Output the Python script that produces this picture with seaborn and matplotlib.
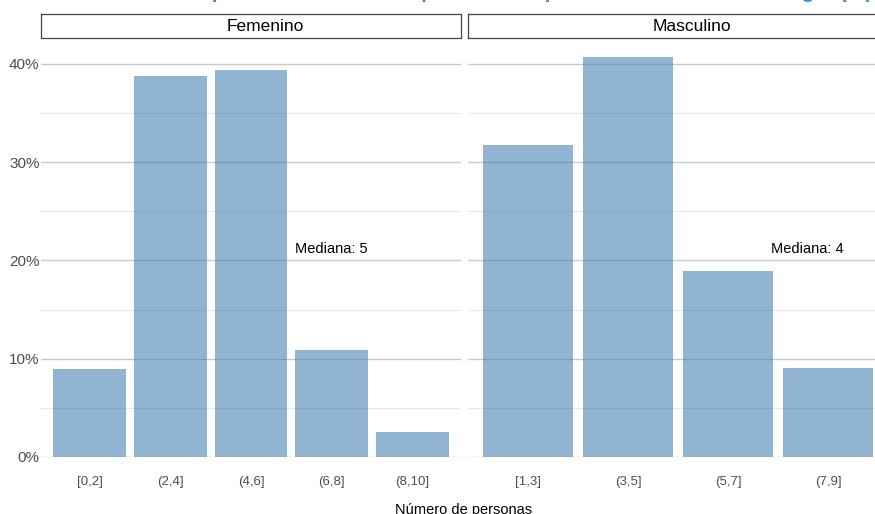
import matplotlib
matplotlib.use('Agg')
import pandas as pd
import seaborn as sns
import matplotlib.pyplot as plt
from matplotlib.ticker import FuncFormatter, MultipleLocator

sns.set_style('white')
plt.rcParams['font.family'] = ['Liberation Sans', 'DejaVu Sans']

# data (percent of households)
panel_names = ['Femenino', 'Masculino']
fem_bins = ['[0,2]', '(2,4]', '(4,6]', '(6,8]', '(8,10]']
fem_pct = [9.0, 38.8, 39.4, 10.9, 2.5]
masc_bins = ['[1,3]', '(3,5]', '(5,7]', '(7,9]']
masc_pct = [31.8, 40.7, 18.9, 9.1]
median_labels = ['Mediana: 5', 'Mediana: 4']

# title is cropped at the top edge in the reference, only descenders show
title = ('Distribución del número de personas residentes por sexo de '
         'personas adultas en el hogar (%)')

W, H = 875, 514
fig = plt.figure(figsize=(W / 100, H / 100), dpi=100)


def px_box(x0, x1, ytop, ybot):
    return [x0 / W, (H - ybot) / H, (x1 - x0) / W, (ybot - ytop) / H]


panels = [
    {'name': panel_names[0], 'bins': fem_bins, 'pct': fem_pct,
     'x': (41, 461), 'median': median_labels[0], 'mx': 3.0},
    {'name': panel_names[1], 'bins': masc_bins, 'pct': masc_pct,
     'x': (468, 888), 'median': median_labels[1], 'mx': 2.79},
]

pct_fmt = FuncFormatter(lambda v, p: f'{v:.0f}%')

for ix, pnl in enumerate(panels):
    x0, x1 = pnl['x']
    ax = fig.add_axes(px_box(x0, x1, 40, 457))
    df = pd.DataFrame({'bin': pnl['bins'], 'pct': pnl['pct']})
    sns.barplot(data=df, x='bin', y='pct', order=pnl['bins'],
                color='#4682B4', alpha=0.6, saturation=1, width=0.9,
                errorbar=None, ax=ax, zorder=3, linewidth=0, edgecolor='none')
    ax.set_xlim(-0.6, len(pnl['bins']) - 0.4)
    ax.set_ylim(0, 42.44)
    ax.yaxis.set_major_locator(MultipleLocator(10))
    ax.yaxis.set_minor_locator(MultipleLocator(5))
    ax.yaxis.set_major_formatter(pct_fmt)
    ax.set_axisbelow(True)
    ax.grid(which='major', axis='y', color='#c9c9c9', lw=1.0)
    ax.grid(which='minor', axis='y', color='#e8e8e8', lw=0.8)
    ax.grid(which='major', axis='x', visible=False)
    for s in ax.spines.values():
        s.set_visible(False)
    ax.tick_params(axis='x', length=0, pad=14, labelsize=9.5, labelcolor='#4d4d4d')
    ax.tick_params(axis='y', which='both', length=0, pad=1, labelsize=11,
                   labelcolor='#4d4d4d', labelleft=(ix == 0))
    ax.set_xlabel('')
    ax.set_ylabel('')
    ax.text(pnl['mx'], 21.17, pnl['median'], ha='center', va='center',
            fontsize=10.5, color='black', zorder=4)

    # facet strip (label sits a little right of the box centre, as in the reference)
    sax = fig.add_axes(px_box(x0, x1, 14, 38))
    sax.set_xticks([])
    sax.set_yticks([])
    sax.set_facecolor('white')
    for s in sax.spines.values():
        s.set_color('#444444')
        s.set_linewidth(0.9)
    sax.text(0.5 + 14 / (x1 - x0), 0.48, pnl['name'], ha='center', va='center',
             fontsize=12.5, color='black', transform=sax.transAxes)

fig.text(464 / W, 0.3 / H, 'Número de personas', ha='center', va='baseline',
         fontsize=10.5, color='black')
fig.text(872 / W, (H + 2) / H, title, ha='right', va='baseline',
         fontsize=15, weight='bold', color='#3d8fd9')

fig.savefig('out.png', dpi=100)
